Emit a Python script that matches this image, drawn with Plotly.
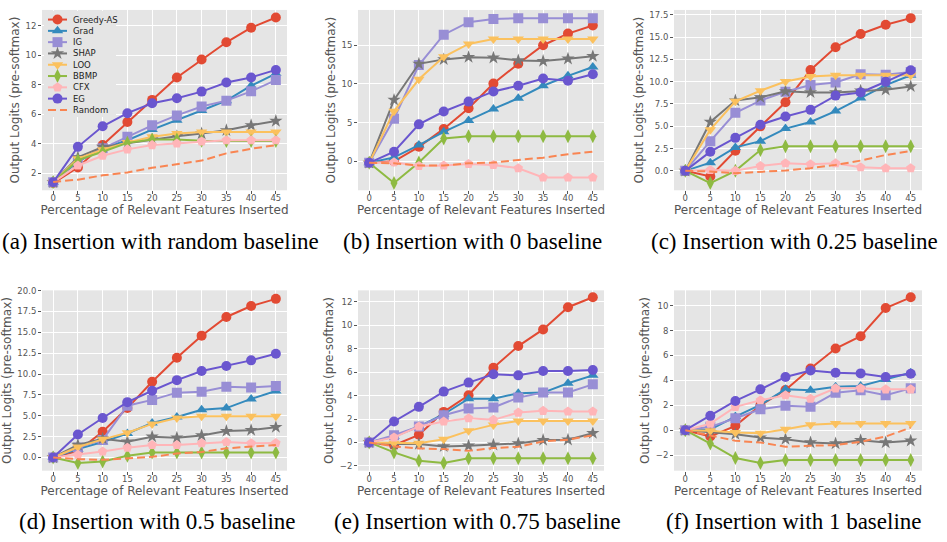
import plotly.graph_objects as go

W, H = 947, 542

pct = [0, 5, 10, 15, 20, 25, 30, 35, 40, 45]
x_ticks = [0, 5, 10, 15, 20, 25, 30, 35, 40, 45]

# one row per panel: (a) random, (b) 0, (c) 0.25, (d) 0.5, (e) 0.75, (f) 1 baseline
greedy_as = [
    [1.35, 2.4, 3.92, 5.48, 6.98, 8.5, 9.72, 10.88, 11.87, 12.56],
    [-0.2, 0.0, 1.87, 4.18, 6.86, 10.06, 12.6, 15.0, 16.5, 17.55],
    [0.0, -0.63, 2.26, 4.99, 7.7, 11.32, 13.87, 15.35, 16.39, 17.13],
    [0.0, 0.8, 3.08, 5.92, 9.07, 11.95, 14.6, 16.84, 18.15, 19.01],
    [0.0, -0.23, 0.65, 2.61, 4.03, 6.38, 8.23, 9.65, 11.55, 12.4],
    [0.0, -0.5, 0.35, 2.0, 3.23, 4.96, 6.56, 7.55, 9.81, 10.67],
]
grad = [
    [1.4, 2.8, 3.7, 4.25, 4.97, 5.6, 6.26, 6.93, 7.94, 8.76],
    [-0.2, 0.5, 2.1, 3.8, 5.28, 6.77, 8.14, 9.76, 11.04, 12.19],
    [0.0, 0.92, 2.63, 3.33, 4.74, 5.48, 6.7, 8.18, 9.62, 10.73],
    [0.0, 1.0, 1.85, 2.88, 4.14, 4.85, 5.72, 5.92, 7.02, 7.97],
    [0.0, 0.5, 1.36, 2.41, 3.74, 3.74, 4.2, 4.26, 5.05, 5.73],
    [0.0, 0.05, 1.09, 2.03, 3.28, 3.2, 3.49, 3.55, 4.08, 4.61],
]
ig = [
    [1.4, 2.9, 3.7, 4.48, 5.26, 5.93, 6.53, 6.93, 7.56, 8.32],
    [-0.2, 5.5, 12.44, 16.36, 17.98, 18.4, 18.5, 18.5, 18.5, 18.5],
    [0.0, 3.33, 6.51, 7.88, 8.88, 9.62, 9.91, 10.84, 10.77, 11.1],
    [0.0, 1.2, 2.1, 6.2, 6.9, 7.77, 7.89, 8.48, 8.4, 8.56],
    [0.0, 0.62, 1.36, 2.33, 2.89, 2.98, 3.83, 4.26, 4.26, 4.96],
    [0.0, 0.27, 0.96, 1.68, 1.97, 1.89, 3.01, 3.2, 2.8, 3.36],
]
shap = [
    [1.4, 3.09, 3.8, 4.03, 4.3, 4.52, 4.7, 4.92, 5.26, 5.55],
    [-0.2, 7.93, 12.6, 13.17, 13.46, 13.38, 13.04, 12.95, 13.25, 13.59],
    [0.0, 5.48, 7.88, 8.25, 8.92, 8.8, 8.8, 8.99, 9.1, 9.47],
    [0.0, 1.5, 2.25, 1.89, 2.49, 2.37, 2.64, 3.16, 3.27, 3.63],
    [0.0, -0.14, -0.14, -0.34, -0.28, -0.2, -0.09, 0.2, 0.23, 0.79],
    [0.0, -0.19, -0.32, -0.59, -0.72, -0.99, -1.07, -0.8, -0.99, -0.85],
]
loo = [
    [1.4, 3.0, 3.6, 4.1, 4.48, 4.7, 4.8, 4.8, 4.8, 4.8],
    [-0.2, 6.48, 10.6, 13.5, 15.17, 15.8, 15.8, 15.8, 15.8, 15.8],
    [0.0, 4.62, 7.81, 8.99, 10.03, 10.58, 10.73, 10.73, 10.73, 10.73],
    [0.0, 1.26, 2.17, 2.96, 4.02, 4.73, 4.93, 4.93, 4.93, 4.93],
    [0.0, -0.06, -0.06, 0.28, 0.99, 1.5, 1.84, 1.84, 1.84, 1.84],
    [0.0, -0.05, -0.19, -0.24, 0.08, 0.43, 0.53, 0.53, 0.53, 0.53],
]
bbmp = [
    [1.4, 2.9, 3.47, 4.07, 4.3, 4.3, 4.21, 4.2, 4.2, 4.2],
    [-0.2, -2.8, -0.17, 2.94, 3.24, 3.24, 3.24, 3.24, 3.24, 3.24],
    [0.0, -1.37, 0.0, 2.33, 2.77, 2.77, 2.77, 2.77, 2.77, 2.77],
    [0.0, -0.67, -0.47, 0.2, 0.59, 0.59, 0.59, 0.59, 0.59, 0.59],
    [0.0, -0.85, -1.56, -1.76, -1.36, -1.36, -1.36, -1.36, -1.36, -1.36],
    [0.0, -1.07, -2.24, -2.64, -2.4, -2.4, -2.4, -2.4, -2.4, -2.4],
]
cfx = [
    [1.4, 2.54, 3.2, 3.63, 3.92, 4.03, 4.16, 4.25, 4.25, 4.25],
    [-0.2, -0.13, -0.6, -0.55, -0.34, -0.47, -0.9, -2.09, -2.09, -2.09],
    [0.0, 0.1, 0.0, 0.55, 0.85, 0.74, 0.85, 0.4, 0.3, 0.3],
    [0.0, 0.32, 0.71, 1.18, 1.5, 1.5, 1.7, 1.85, 1.7, 1.74],
    [0.0, 0.43, 1.36, 1.79, 2.07, 1.93, 2.55, 2.7, 2.64, 2.64],
    [0.0, 0.53, 1.87, 2.4, 2.8, 2.53, 3.36, 3.36, 3.28, 3.28],
]
eg = [
    [1.4, 3.8, 5.19, 6.08, 6.75, 7.09, 7.54, 8.16, 8.5, 9.01],
    [-0.2, 1.24, 4.77, 6.43, 7.71, 9.03, 9.76, 10.7, 10.4, 11.25],
    [0.0, 2.15, 3.7, 5.18, 6.1, 6.84, 8.44, 8.8, 9.99, 11.28],
    [0.0, 2.76, 4.73, 6.63, 8.0, 9.27, 10.37, 10.97, 11.64, 12.43],
    [0.0, 1.79, 3.04, 4.34, 5.11, 5.82, 5.73, 6.1, 6.1, 6.18],
    [0.0, 1.15, 2.35, 3.28, 4.27, 4.8, 4.61, 4.56, 4.27, 4.53],
]
random_bl = [
    [1.42, 1.58, 1.87, 2.07, 2.38, 2.62, 2.87, 3.36, 3.67, 3.92],
    [-0.2, -0.26, -0.55, -0.55, -0.26, -0.17, 0.17, 0.47, 0.9, 1.24],
    [0.0, -0.07, -0.26, -0.15, 0.04, 0.3, 0.67, 1.15, 1.78, 2.22],
    [0.0, -0.2, -0.28, -0.08, 0.08, 0.47, 0.67, 1.1, 1.26, 1.5],
    [0.0, -0.34, -0.51, -0.57, -0.71, -0.48, -0.37, 0.09, 0.23, 0.62],
    [0.0, -0.45, -0.85, -0.99, -1.33, -1.25, -1.2, -0.93, -0.51, 0.21],
]

series_names = ["Greedy-AS", "Grad", "IG", "SHAP", "LOO", "BBMP", "CFX", "EG", "Random"]
captions = [
    "(a) Insertion with random baseline",
    "(b) Insertion with 0 baseline",
    "(c) Insertion with 0.25 baseline",
    "(d) Insertion with 0.5 baseline",
    "(e) Insertion with 0.75 baseline",
    "(f) Insertion with 1 baseline",
]
x_title = "Percentage of Relevant Features Inserted"
y_title = "Output Logits (pre-softmax)"

# ---- styling ----
series_data = [greedy_as, grad, ig, shap, loo, bbmp, cfx, eg, random_bl]
colors = ["#E24A33", "#348ABD", "#988ED5", "#777777", "#FBC15E",
          "#8EBA42", "#FFB5B8", "#6A56CF", "#F98552"]
symbols = ["circle", "triangle-up", "square", "star", "triangle-down",
           "diamond-tall", "pentagon", "circle", None]

col_px = [(42, 287), (358, 604), (674, 922)]
row_px = [(5, 187), (288, 470)]
y_ranges = [(0.86, 13.07), (-3.75, 19.56), (-2.18, 18.05),
            (-1.58, 20.03), (-2.41, 12.99), (-3.25, 11.23)]
y_dtick = [2, 5, 2.5, 2.5, 2, 2]
y_fmt = ["d", "d", ".1f", ".1f", "d", "d"]
cap_cx = [160, 472, 794, 157, 477, 793]
cap_cy = [239, 521]

FONT = "DejaVu Sans"
TICK = "#555555"

fig = go.Figure()
layout = dict(
    width=W, height=H,
    margin=dict(l=0, r=0, t=0, b=0),
    paper_bgcolor="white",
    plot_bgcolor="#E5E5E5",
    font=dict(family=FONT, color=TICK),
    showlegend=False,
    annotations=[],
    shapes=[],
)

for k in range(6):
    r, c = divmod(k, 3)
    xd = [col_px[c][0] / W, col_px[c][1] / W]
    yd = [1 - row_px[r][1] / H, 1 - row_px[r][0] / H]
    ax = "" if k == 0 else str(k + 1)
    layout["xaxis" + ax] = dict(
        domain=xd, anchor="y" + ax, range=[-2.25, 47.25],
        tickmode="array", tickvals=x_ticks,
        showgrid=True, gridcolor="white", gridwidth=1, zeroline=False,
        showline=False, ticks="outside", ticklen=3, tickcolor=TICK,
        ticklabelstandoff=-3,
        tickfont=dict(size=8.5, color=TICK, family=FONT),
        title=dict(text=x_title, font=dict(size=12, color=TICK, family=FONT), standoff=2),
    )
    layout["yaxis" + ax] = dict(
        domain=yd, anchor="x" + ax, range=list(y_ranges[k]),
        dtick=y_dtick[k], tick0=0, tickformat=y_fmt[k],
        showgrid=True, gridcolor="white", gridwidth=1, zeroline=False,
        showline=False, ticks="outside", ticklen=3, tickcolor=TICK,
        tickfont=dict(size=8.5, color=TICK, family=FONT),
        title=dict(text=y_title, font=dict(size=12, color=TICK, family=FONT), standoff=3),
    )
    for name, data, col, sym in zip(series_names, series_data, colors, symbols):
        if sym is None:
            fig.add_trace(go.Scatter(
                x=pct, y=data[k], mode="lines", name=name,
                line=dict(color=col, width=2, dash="8px,4px"),
                xaxis="x" + ax, yaxis="y" + ax, hoverinfo="skip"))
        else:
            fig.add_trace(go.Scatter(
                x=pct, y=data[k], mode="lines+markers", name=name,
                line=dict(color=col, width=2),
                marker=dict(symbol=sym, size=10, color=col, line=dict(width=0)),
                xaxis="x" + ax, yaxis="y" + ax, hoverinfo="skip"))
    layout["annotations"].append(dict(
        text=captions[k], xref="paper", yref="paper",
        x=cap_cx[k] / W, y=1 - cap_cy[r] / H, xanchor="center", yanchor="middle",
        showarrow=False, font=dict(family="Liberation Serif", size=23, color="black")))

# ---- legend drawn in panel (a), on a pixel-unit overlay axis ----
LX0, LX1, LY0, LY1 = 44, 116, 6, 113
layout["xaxis7"] = dict(domain=[LX0 / W, LX1 / W], range=[LX0, LX1], anchor="y7",
                        visible=False, fixedrange=True)
layout["yaxis7"] = dict(domain=[1 - LY1 / H, 1 - LY0 / H], range=[LY1, LY0], anchor="x7",
                        visible=False, fixedrange=True)
layout["shapes"].append(dict(type="rect", xref="x7", yref="y7", x0=LX0, x1=LX1, y0=LY0, y1=LY1,
                             fillcolor="#E5E5E5", opacity=0.8, line=dict(width=0), layer="between"))
for i, (name, col, sym) in enumerate(zip(series_names, colors, symbols)):
    yy = 14.7 + 11.4 * i
    fig.add_trace(go.Scatter(
        x=[48, 67], y=[yy, yy], mode="lines",
        line=dict(color=col, width=2, dash="8px,4px" if sym is None else "solid"),
        xaxis="x7", yaxis="y7", hoverinfo="skip"))
    if sym is not None:
        fig.add_trace(go.Scatter(
            x=[57.5], y=[yy], mode="markers",
            marker=dict(symbol=sym, size=10, color=col, line=dict(width=0)),
            xaxis="x7", yaxis="y7", hoverinfo="skip"))
    layout["annotations"].append(dict(
        text=name, xref="x7", yref="y7", x=71, y=yy, xanchor="left", yanchor="middle",
        showarrow=False, font=dict(family=FONT, size=8.5, color="#222222")))

fig.update_layout(**layout)
fig.write_html("out.html",
               config={"displayModeBar": False, "staticPlot": True},
               post_script="document.body.style.margin='0px';document.body.style.overflow='hidden';")
